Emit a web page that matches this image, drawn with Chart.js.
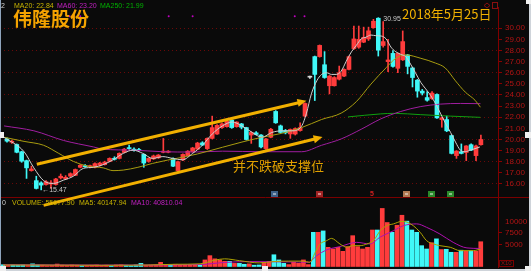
<!DOCTYPE html>
<html>
<head>
<meta charset="utf-8">
<script src="https://cdn.jsdelivr.net/npm/chart.js@4.4.1/dist/chart.umd.min.js"></script>
<style>
  html, body { margin: 0; padding: 0; background: #0a0a0a; overflow: hidden; }
  #wrap { position: relative; width: 531px; height: 271px; }
  #wrap canvas { position: absolute; left: 0; top: 0; }
</style>
</head>
<body>
<div id="wrap">
  <canvas id="priceChart" width="531" height="271"></canvas>
  <canvas id="volChart" width="531" height="271"></canvas>
</div>
<script>
// daily candles (day index 0..97)
const opens = [20.05, 19.75, 19.55, 18.9, 18.1, 17.2, 16.3, 16.1, 15.95, 16.0,
  15.95, 16.55, 16.45, 16.7, 16.78, 17.5, 17.65, 17.55, 17.5, 17.68,
  17.74, 18.03, 18.3, 18.3, 18.83, 19.25, 19.13, 19.1, 18.66, 18.03,
  18.26, 18.35, 18.85, 18.85, 18.3, 17.2, 18.17, 18.55, 18.9, 19.13,
  19.7, 19.18, 20.1, 20.49, 21.07, 21.15, 21.74, 21.15, 21.4, 21.07,
  20.4, 20.6, 20.4, 19.18, 20.2, 22.52, 21.22, 20.8, 20.5, 20.49,
  20.8, 22.1, 25.6, 27.45, 27.45, 26.72, 24.83, 24.83, 25.42, 25.7,
  26.3, 28.17, 28.3, 28.75, 29.04, 30.05, 30.9, 28.45, 27.0, 27.74,
  26.4, 27.16, 27.6, 26.43, 25.33, 24.35, 23.77, 23.68, 24.05, 21.79,
  21.79, 20.35, 18.55, 18.9, 18.83, 19.53, 18.55, 19.53];
const closes = [19.85, 19.8, 18.85, 18.05, 17.45, 17.35, 15.6, 15.9, 16.2, 16.05,
  16.45, 16.7, 16.6, 16.93, 17.3, 17.68, 17.55, 17.65, 17.83, 17.88,
  17.97, 18.3, 18.22, 18.75, 19.13, 19.18, 19.0, 19.0, 17.88, 18.3,
  18.52, 18.6, 18.95, 18.95, 17.6, 18.0, 18.66, 18.95, 19.24, 19.68,
  19.5, 20.1, 21.07, 21.27, 21.41, 21.65, 21.07, 21.57, 21.1, 20.0,
  20.63, 20.45, 19.33, 20.05, 20.92, 21.5, 20.63, 20.6, 20.9, 20.98,
  21.07, 23.24, 25.6, 25.85, 28.46, 25.57, 25.7, 25.57, 26.0, 26.3,
  27.45, 29.04, 29.0, 29.18, 29.77, 30.63, 28.03, 28.8, 27.15, 26.57,
  27.74, 28.8, 26.57, 25.57, 24.35, 24.17, 23.53, 24.17, 21.94, 21.94,
  20.78, 18.75, 18.96, 18.75, 19.42, 19.04, 19.42, 20.0];
const highs = [20.15, 19.95, 19.6, 18.95, 18.15, 17.6, 16.7, 16.2, 16.3, 16.3,
  16.5, 16.9, 16.75, 17.0, 17.35, 17.75, 17.75, 17.7, 17.9, 17.95,
  18.05, 18.35, 18.45, 18.8, 19.2, 19.5, 19.25, 19.2, 18.7, 18.35,
  18.6, 18.65, 20.1, 19.0, 18.35, 18.05, 18.7, 19.0, 19.3, 19.75,
  19.8, 20.15, 22.1, 21.35, 21.5, 21.7, 21.8, 21.6, 21.45, 21.1,
  20.7, 20.7, 20.45, 20.1, 21.0, 22.6, 21.3, 20.9, 20.95, 21.05,
  21.5, 23.3, 25.7, 27.5, 28.5, 27.9, 25.75, 25.65, 26.6, 26.35,
  27.5, 30.2, 30.2, 30.1, 30.1, 30.8, 30.95, 30.6, 29.0, 28.0,
  27.8, 29.76, 27.65, 26.5, 25.4, 24.5, 24.3, 24.3, 24.1, 22.0,
  22.1, 20.4, 19.0, 19.6, 19.45, 19.6, 19.5, 20.4];
const lows = [19.75, 19.65, 18.8, 17.95, 16.5, 17.15, 15.55, 15.47, 15.9, 15.6,
  15.9, 16.45, 16.4, 16.65, 16.75, 17.45, 17.5, 17.45, 17.45, 17.6,
  17.7, 18.0, 18.15, 18.25, 18.8, 19.1, 18.95, 18.95, 17.5, 17.95,
  18.2, 18.3, 18.8, 18.8, 17.55, 17.15, 18.1, 18.5, 18.85, 19.1,
  19.45, 19.1, 20.05, 20.45, 21.0, 21.1, 21.0, 21.1, 20.95, 19.95,
  19.65, 20.4, 19.25, 19.1, 20.15, 21.45, 20.55, 20.5, 20.1, 20.4,
  20.75, 22.05, 25.5, 23.5, 27.4, 25.5, 24.1, 24.8, 25.35, 25.65,
  26.25, 28.1, 28.2, 28.7, 28.9, 30.0, 27.5, 28.3, 26.1, 26.5,
  26.0, 27.1, 25.9, 24.72, 23.8, 24.0, 23.45, 23.6, 21.9, 21.1,
  20.7, 18.7, 18.3, 18.7, 18.1, 19.0, 18.1, 19.5];
// volume, in units of 10 (axis shows X10)
const volumes = [500, 350, 450, 400, 450, 350, 700, 450, 400, 300,
  350, 650, 400, 350, 450, 400, 300, 350, 400, 450,
  350, 400, 300, 450, 500, 400, 350, 450, 800, 400,
  450, 500, 1030, 500, 450, 600, 450, 400, 500, 550,
  450, 1560, 2500, 1800, 1560, 1250, 1250, 800, 800, 600,
  700, 400, 450, 1030, 1250, 2700, 1560, 810, 530, 1030,
  810, 1560, 530, 7640, 7640, 7950, 4330, 3970, 4330, 3450,
  4480, 6900, 4480, 3970, 4330, 8150, 8150, 12900, 9800, 7640,
  9200, 11400, 10100, 8150, 7640, 4700, 3970, 5350, 6200, 3850,
  3900, 3240, 3240, 3700, 3550, 3600, 3500, 5568];
const volTickLabels = [5000, 7500, 10000];

// moving averages as [day, value]
const ma10Pts = [[-0.6, 20.2], [3.5, 18.9], [5.5, 17.45], [7.5, 16.3], [9.5, 16.05], [11.6, 16.35],
  [13.6, 16.7], [15.6, 17.4], [17.7, 17.5], [19.7, 17.74], [21.7, 18.17], [23.8, 18.75],
  [25.8, 19.04], [27.8, 18.75], [29.8, 18.3], [31.9, 18.46], [33.9, 18.3], [35.9, 18.17],
  [38, 18.75], [40, 19.48], [42, 20.49], [44.1, 21.22], [46.1, 21.57], [48.1, 21.22],
  [50.2, 20.63], [52.2, 20.2], [54.2, 20.63], [56.3, 20.78], [58.3, 20.78], [60.3, 21.2],
  [61.3, 22.37], [62.3, 24.1], [63.4, 25.27], [64.4, 25.85], [65.4, 26.0], [66.4, 25.85],
  [67.4, 25.85], [68.4, 26.14], [69.4, 27.0], [70.5, 27.88], [71.5, 28.46], [72.5, 29.04],
  [73.5, 29.2], [74.5, 29.39], [75.5, 29.33], [76.6, 29.3], [77.6, 29.04], [78.6, 28.3],
  [79.6, 27.88], [80.6, 27.65], [81.6, 27.45], [82.6, 26.78], [83.6, 26.0], [84.7, 25.13],
  [85.7, 24.55], [86.7, 23.97], [87.7, 23.24], [88.7, 22.37], [89.7, 21.5], [90.8, 20.63],
  [91.8, 19.77], [92.8, 19.04], [93.8, 18.9], [94.8, 19.04], [95.8, 19.18], [96.8, 19.33]];
const ma20Pts = [[-0.6, 20.2], [3.5, 19.83], [7.5, 19.48], [10.6, 18.75], [13.6, 18.03], [16.6, 17.6],
  [19.7, 17.45], [21.7, 17.2], [23.8, 17.25], [26.8, 17.5], [29.8, 17.85], [32.9, 18.15],
  [35.9, 18.4], [39, 18.7], [44.1, 19.3], [48.1, 19.77], [52.2, 20.2], [56.2, 20.55],
  [60.3, 21.07], [64.4, 21.8], [68.4, 22.37], [71.5, 23.4], [74.5, 24.98], [77.6, 26.45],
  [79.6, 27.3], [81.6, 27.6], [84.7, 27.3], [87.7, 26.87], [89.7, 26.43], [91.8, 25.27],
  [93.8, 24.26], [95.8, 23.53], [96.9, 22.9]];
const ma60Pts = [[-0.6, 21.22], [5.5, 20.78], [11.6, 19.91], [17.7, 19.33], [19.7, 19.13], [25.8, 19.04],
  [31.9, 18.9], [38, 18.87], [44.1, 18.95], [52.2, 18.9], [60.3, 18.9], [64.4, 19.48],
  [68.4, 20.05], [72.5, 20.92], [76.5, 21.85], [80.6, 22.52], [84.7, 22.96], [88.7, 23.18],
  [92.8, 23.24], [96.9, 23.22]];
const ma250Pts = [[69.8, 22.03], [76.5, 22.3], [79.2, 22.35], [84.7, 22.23], [90.8, 22.1], [96.9, 21.99]];
const volMa5Pts = [[0, 450], [10, 420], [20, 380], [30, 450], [35, 600], [40, 700], [43, 1500],
  [45, 1800], [48, 1400], [52, 900], [55, 1200], [58, 1300], [61, 1300], [62.3, 1030],
  [63.4, 3240], [64.4, 5080], [65.7, 5800], [66.7, 6300], [68.4, 5080], [69.8, 4350],
  [71.1, 4700], [72.5, 4700], [73.9, 5080], [75.2, 5800], [76.6, 8000], [77.9, 9100],
  [79.3, 9500], [81, 10060], [82, 9900], [83.3, 9100], [84.7, 7640], [86, 5800],
  [87.4, 5080], [88.7, 4700], [90.8, 4350], [92.8, 3600], [95.5, 3600], [97, 4015]];
const volMa10Pts = [[0, 500], [20, 420], [40, 550], [45, 1000], [50, 1200], [55, 1150], [60, 1100],
  [62, 1030], [63.7, 2500], [65.7, 3760], [68.4, 4500], [71.8, 5430], [74.5, 5080],
  [76.6, 6600], [79.3, 8000], [81.3, 9100], [84, 9500], [86, 8740], [88.7, 7270],
  [91.4, 5430], [94.2, 4200], [97, 4081]];

// channel drawn on the chart: [day, price] start and end
const upperChannel = [[6.1, 17.78], [60.7, 23.41]];
const lowerChannel = [[7.5, 14.08], [64.0, 20.15]];
// small event markers under the candles and dots on top
const eventDays = [54.6, 63.8, 74.8, 81.7, 86.8, 90.7];
const eventColors = ['#3d5f86', '#a02424', '#d02020', '#b07850', '#2a8a2a', '#2a8a2a'];
const dotDays = [12.8, 15, 33.1, 38, 58.9, 60.9];
const dotLevel = 31.07;

const days = opens.map((v, i) => i);
const dayMin = -0.61, dayMax = 100.5;

const upColor = '#ff3c3c', downColor = '#40f8f8', flatColor = '#d8d8d8';
function candleColor(i) {
    if (closes[i] > opens[i]) return upColor;
    if (closes[i] < opens[i]) return downColor;
    return flatColor;
}
const pts = arr => arr.map(p => ({ x: p[0], y: p[1] }));
const latin = '"Liberation Sans", Arial, sans-serif';
const cjk = '"Noto Sans CJK SC", sans-serif';

function drawArrowLine(ctx, x1, y1, x2, y2) {
    const a = Math.atan2(y2 - y1, x2 - x1);
    ctx.save();
    ctx.strokeStyle = '#f2b000';
    ctx.fillStyle = '#f2b000';
    ctx.lineWidth = 3;
    ctx.beginPath();
    ctx.moveTo(x1, y1);
    ctx.lineTo(x2 - 4 * Math.cos(a), y2 - 4 * Math.sin(a));
    ctx.stroke();
    ctx.beginPath();
    ctx.moveTo(x2 + 3 * Math.cos(a), y2 + 3 * Math.sin(a));
    ctx.lineTo(x2 - 6 * Math.cos(a) - 4 * Math.sin(a), y2 - 6 * Math.sin(a) + 4 * Math.cos(a));
    ctx.lineTo(x2 - 6 * Math.cos(a) + 4 * Math.sin(a), y2 - 6 * Math.sin(a) - 4 * Math.cos(a));
    ctx.closePath();
    ctx.fill();
    ctx.restore();
}

// Price chart overlays
const priceOverlay = {
    id: 'priceOverlay',
    afterDraw(chart) {
        const { ctx, chartArea, scales } = chart;
        const xs = scales.x, ys = scales.y;
        ctx.save();
        // panel separator
        ctx.strokeStyle = '#7a0000';
        ctx.lineWidth = 1;
        ctx.beginPath();
        ctx.moveTo(0, chartArea.bottom + 0.5);
        ctx.lineTo(chart.width, chartArea.bottom + 0.5);
        ctx.stroke();

        // event markers
        eventDays.forEach((d, k) => {
            const cx = Math.round(xs.getPixelForValue(d));
            ctx.fillStyle = eventColors[k];
            if (k === 2) {
                ctx.font = 'bold 7px ' + latin;
                ctx.textAlign = 'center';
                ctx.textBaseline = 'middle';
                ctx.fillText('5', cx, chartArea.bottom - 3);
            } else {
                ctx.fillRect(cx - 3, chartArea.bottom - 6, 7, 6);
                ctx.fillStyle = 'rgba(255,255,255,0.45)';
                ctx.fillRect(cx - 1, chartArea.bottom - 4, 3, 2);
            }
        });

        // channel lines
        [upperChannel, lowerChannel].forEach(c => {
            drawArrowLine(ctx,
                xs.getPixelForValue(c[0][0]), ys.getPixelForValue(c[0][1]),
                xs.getPixelForValue(c[1][0]), ys.getPixelForValue(c[1][1]));
        });

        ctx.textBaseline = 'middle';
        ctx.textAlign = 'left';
        // header
        ctx.font = '7px ' + latin;
        ctx.fillStyle = '#d0d0d0';
        ctx.textAlign = 'right';
        ctx.fillText('9.32', 5, 6);
        ctx.textAlign = 'left';
        ctx.fillStyle = '#c8b400';
        ctx.fillText('MA20: 22.84', 14, 6);
        ctx.fillStyle = '#c020c0';
        ctx.fillText('MA60: 23.20', 57, 6);
        ctx.fillStyle = '#00b000';
        ctx.fillText('MA250: 21.99', 100, 6);

        // small icons top right
        ctx.strokeStyle = '#8a1010';
        ctx.beginPath();
        ctx.moveTo(484, 5.5); ctx.lineTo(487, 3); ctx.lineTo(490, 5.5); ctx.lineTo(487, 8); ctx.closePath();
        ctx.stroke();
        ctx.strokeRect(492.5, 2.5, 5, 6);

        // high / low marks
        ctx.fillStyle = '#c8c8c8';
        ctx.fillText('30.95', xs.getPixelForValue(76) + 5, ys.getPixelForValue(30.95) + 1);
        ctx.fillText('\u219015.47', xs.getPixelForValue(7) + 1, ys.getPixelForValue(15.47));

        // titles
        ctx.fillStyle = '#f5a200';
        ctx.font = 'bold 19px ' + cjk;
        ctx.fillText('伟隆股份', 13, 19);
        ctx.fillStyle = '#f0b000';
        ctx.font = '13px ' + cjk;
        ctx.fillText('2018年5月25日', 402, 14);
        ctx.fillStyle = '#e0a000';
        ctx.fillText('并不跌破支撑位', 233, 166);
        ctx.restore();
    }
};

new Chart(document.getElementById('priceChart'), {
    type: 'bar',
    data: {
        datasets: [
            { type: 'line', label: 'MA10', data: pts(ma10Pts), borderColor: '#d0d0d0', borderWidth: 1,
              pointRadius: 0, cubicInterpolationMode: 'monotone', order: 0 },
            { type: 'line', label: 'MA20', data: pts(ma20Pts), borderColor: '#a89c10', borderWidth: 1,
              pointRadius: 0, cubicInterpolationMode: 'monotone', order: 0 },
            { type: 'line', label: 'MA60', data: pts(ma60Pts), borderColor: '#a01ea0', borderWidth: 1,
              pointRadius: 0, cubicInterpolationMode: 'monotone', order: 0 },
            { type: 'line', label: 'MA250', data: pts(ma250Pts), borderColor: '#10a010', borderWidth: 1,
              pointRadius: 0, cubicInterpolationMode: 'monotone', order: 0 },
            { type: 'line', label: 'dots', data: dotDays.map(d => ({ x: d, y: dotLevel })), showLine: false,
              pointRadius: 1, pointBorderWidth: 0, pointBackgroundColor: '#c000c0', order: 0 },
            { label: 'body', data: days.map(i => ({ x: i, y: [opens[i], closes[i]] })),
              backgroundColor: c => candleColor(c.dataIndex), barThickness: 4, minBarLength: 1,
              grouped: false, borderWidth: 0, order: 1 },
            { label: 'wick', data: days.map(i => ({ x: i, y: [lows[i], highs[i]] })),
              backgroundColor: c => candleColor(c.dataIndex), barThickness: 1,
              grouped: false, borderWidth: 0, order: 2 }
        ]
    },
    options: {
        responsive: false,
        animation: false,
        layout: { padding: { top: 0, left: 0, right: 0, bottom: 74 } },
        plugins: { legend: { display: false }, tooltip: { enabled: false } },
        scales: {
            x: { type: 'linear', min: dayMin, max: dayMax, offset: false, display: false },
            y: {
                position: 'right',
                min: 14.83,
                max: 31.91,
                afterFit: s => { s.width = 33; },
                border: { color: '#800000', width: 1, dash: [1, 3] },
                grid: {
                    color: c => (c.tick && c.tick.value % 2 === 0 && c.tick.value >= 16 && c.tick.value <= 30) ? '#6a0808' : 'transparent',
                    tickColor: c => (c.tick && c.tick.value >= 16 && c.tick.value <= 30) ? '#8a0000' : 'transparent',
                    tickLength: 4
                },
                ticks: {
                    stepSize: 1,
                    includeBounds: false,
                    maxTicksLimit: 100,
                    autoSkip: false,
                    padding: 3,
                    color: '#b41414',
                    font: { family: latin, size: 8, lineHeight: 1 },
                    callback: v => (v >= 16 && v <= 30) ? v.toFixed(2) : null
                }
            }
        }
    },
    plugins: [priceOverlay]
});

// Volume chart overlays
const volOverlay = {
    id: 'volOverlay',
    afterDraw(chart) {
        const { ctx, chartArea } = chart;
        const ys = chart.scales.y;
        ctx.save();
        ctx.textBaseline = 'middle';
        // axis labels
        ctx.font = '8px ' + latin;
        ctx.fillStyle = '#b41414';
        volTickLabels.forEach(v => ctx.fillText(String(v), chartArea.right + 7, ys.getPixelForValue(v)));
        // header
        ctx.font = '7px ' + latin;
        ctx.fillStyle = '#d0d0d0';
        ctx.fillText('0', 2, chartArea.top + 5);
        ctx.fillStyle = '#c8b400';
        ctx.fillText('VOLUME: 55677.90', 12, chartArea.top + 5);
        ctx.fillText('MA5: 40147.94', 79, chartArea.top + 5);
        ctx.fillStyle = '#c020c0';
        ctx.fillText('MA10: 40810.04', 131, chartArea.top + 5);
        // X10 box
        ctx.strokeStyle = '#7a0000';
        ctx.strokeRect(chartArea.right + 1.5, chartArea.bottom - 6.5, 14, 6);
        ctx.fillStyle = '#a01010';
        ctx.font = '6px ' + latin;
        ctx.fillText('X10', chartArea.right + 3, chartArea.bottom - 3.3);
        // window edges
        ctx.fillStyle = '#cfd4da';
        ctx.fillRect(chart.width - 2, 0, 2, chart.height);
        ctx.fillRect(0, chart.height - 2, chart.width, 2);
        ctx.fillStyle = '#8fa4bc';
        ctx.fillRect(0, 0, 1, chart.height);
        ctx.fillStyle = '#f0f0f0';
        ctx.fillRect(0, 132, 4, 6);
        ctx.fillRect(chart.width - 6, 132, 6, 6);
        ctx.fillRect(chart.width - 5, 0, 5, 4);
        ctx.fillRect(0, chart.height - 5, 6, 5);
        ctx.fillRect(chart.width - 6, chart.height - 5, 6, 5);
        ctx.fillRect(262, chart.height - 5, 6, 5);
        ctx.restore();
    }
};

new Chart(document.getElementById('volChart'), {
    type: 'bar',
    data: {
        datasets: [
            { type: 'line', label: 'MA5', data: pts(volMa5Pts), borderColor: '#b0a400', borderWidth: 1,
              pointRadius: 0, cubicInterpolationMode: 'monotone', order: 0 },
            { type: 'line', label: 'MA10', data: pts(volMa10Pts), borderColor: '#b010b0', borderWidth: 1,
              pointRadius: 0, cubicInterpolationMode: 'monotone', order: 0 },
            { label: 'VOLUME', data: days.map(i => ({ x: i, y: volumes[i] })),
              backgroundColor: c => candleColor(c.dataIndex) === downColor ? downColor : upColor,
              barThickness: 4, grouped: false, borderWidth: 0, order: 1 }
        ]
    },
    options: {
        responsive: false,
        animation: false,
        layout: { padding: { top: 198, left: 0, right: 0, bottom: 4 } },
        plugins: { legend: { display: false }, tooltip: { enabled: false } },
        scales: {
            x: { type: 'linear', min: dayMin, max: dayMax, offset: false, display: false },
            y: {
                position: 'right',
                min: 0,
                max: 15200,
                afterFit: s => { s.width = 33; },
                border: { color: '#800000', width: 1, dash: [1, 3] },
                grid: {
                    color: c => (c.tick && (c.tick.value === 5000 || c.tick.value === 10000)) ? '#6a0808' : 'transparent',
                    tickColor: c => (c.tick && c.tick.value >= 5000 && c.tick.value <= 10000) ? '#8a0000' : 'transparent',
                    tickLength: 4
                },
                ticks: {
                    display: false,
                    stepSize: 2500,
                    includeBounds: false,
                    maxTicksLimit: 100,
                    autoSkip: false
                }
            }
        }
    },
    plugins: [volOverlay]
});
</script>
</body>
</html>
